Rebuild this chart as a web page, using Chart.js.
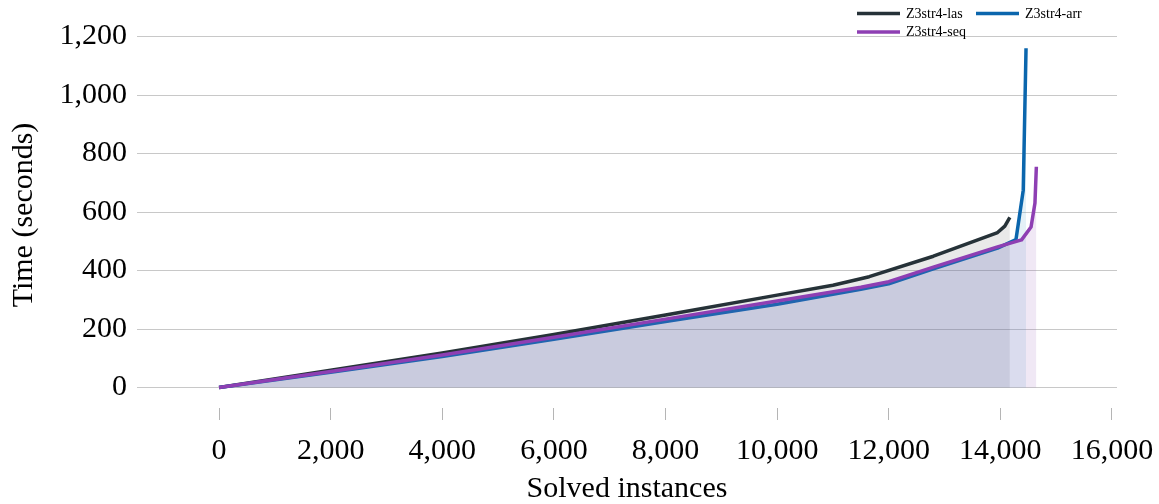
<!DOCTYPE html>
<html>
<head>
<meta charset="utf-8">
<script src="https://cdn.jsdelivr.net/npm/chart.js@4.4.0/dist/chart.umd.min.js"></script>
<style>
  html, body { margin: 0; padding: 0; background: #ffffff; }
  #wrap { width: 1159px; height: 504px; }
</style>
</head>
<body>
<div id="wrap"><canvas id="c" width="1159" height="504"></canvas></div>
<script>
// Solved instances (x) vs. cumulative time in seconds (y) for each solver
const seriesNames = ['Z3str4-las', 'Z3str4-arr', 'Z3str4-seq'];

const lasX = [0, 2000, 4000, 6000, 8000, 10000, 11000, 11650, 12800, 13950, 14080, 14170];
const lasY = [0, 59, 118, 181, 248, 316, 350, 379, 449, 530, 552, 582];

const arrX = [0, 2000, 4000, 6000, 8000, 10000, 11500, 12000, 12800, 13950, 14280, 14410, 14460];
const arrY = [0, 52, 106, 165, 226, 285, 336, 355, 406, 477, 506, 675, 1160];

const seqX = [0, 2000, 4000, 6000, 8000, 10000, 11500, 12000, 12800, 13950, 14380, 14550, 14620, 14645];
const seqY = [0, 55, 111, 172, 234, 296, 343, 362, 412, 481, 505, 549, 631, 755];

const xTicks = [0, 2000, 4000, 6000, 8000, 10000, 12000, 14000, 16000];
const yTicks = [0, 200, 400, 600, 800, 1000, 1200];

const toPoints = (xs, ys) => xs.map((x, i) => ({ x: x, y: ys[i] }));

const serif = 'Liberation Serif, Times New Roman, serif';
const bigFont = { family: serif, size: 30 };

const lineColors = ['#263238', '#0b66ad', '#8e3fb3'];
const fillColors = ['rgba(40,40,40,0.10)', 'rgba(82,162,202,0.15)', 'rgba(155,102,188,0.15)'];

// Two-row legend in the top-right corner
const cornerLegend = {
  id: 'cornerLegend',
  afterDraw(chart) {
    const ctx = chart.ctx;
    const items = [
      { i: 0, x: 857, y: 13.5 },
      { i: 1, x: 976, y: 13.5 },
      { i: 2, x: 857, y: 32 }
    ];
    ctx.save();
    ctx.font = '14px ' + serif;
    ctx.textBaseline = 'middle';
    ctx.fillStyle = '#000';
    items.forEach(it => {
      ctx.strokeStyle = lineColors[it.i];
      ctx.lineWidth = 3.5;
      ctx.beginPath();
      ctx.moveTo(it.x, it.y);
      ctx.lineTo(it.x + 43, it.y);
      ctx.stroke();
      ctx.fillText(seriesNames[it.i], it.x + 49, it.y + 0.5);
    });
    ctx.restore();
  }
};

const datasets = [
  { label: seriesNames[0], data: toPoints(lasX, lasY), order: 3 },
  { label: seriesNames[1], data: toPoints(arrX, arrY), order: 2 },
  { label: seriesNames[2], data: toPoints(seqX, seqY), order: 1 }
].map((d, i) => Object.assign(d, {
  borderColor: lineColors[i],
  backgroundColor: fillColors[i],
  borderWidth: 3.5,
  pointRadius: 0,
  tension: 0,
  fill: 'origin',
  borderJoinStyle: 'round'
}));

new Chart(document.getElementById('c'), {
  type: 'line',
  data: { datasets: datasets },
  options: {
    responsive: false,
    animation: false,
    devicePixelRatio: 1,
    layout: { padding: { top: 22, right: 42, left: 0, bottom: 0 } },
    plugins: {
      legend: { display: false },
      tooltip: { enabled: false }
    },
    scales: {
      x: {
        type: 'linear',
        min: -1470,
        max: 16090,
        afterBuildTicks: s => { s.ticks = xTicks.map(v => ({ value: v })); },
        afterFit: s => { s.height = 96; s.paddingLeft = 0; s.paddingRight = 0; },
        ticks: {
          font: bigFont,
          color: '#000',
          padding: 13,
          maxRotation: 0,
          autoSkip: false,
          callback: v => Number(v).toLocaleString('en-US')
        },
        grid: { drawOnChartArea: false, drawTicks: true, tickLength: 12, color: '#b5b5b5' },
        border: { display: false },
        title: {
          display: true,
          text: 'Solved instances',
          font: bigFont,
          color: '#000',
          padding: { top: 0, bottom: -3 }
        }
      },
      y: {
        type: 'linear',
        min: -70,
        max: 1250,
        afterBuildTicks: s => { s.ticks = yTicks.map(v => ({ value: v })); },
        afterFit: s => { s.width = 137; s.paddingTop = 0; s.paddingBottom = 0; },
        ticks: {
          font: bigFont,
          color: '#000',
          padding: 10,
          callback: v => Number(v).toLocaleString('en-US')
        },
        grid: { drawTicks: false, color: '#c8c8c8', lineWidth: 1 },
        border: { display: false },
        title: {
          display: true,
          text: 'Time (seconds)',
          font: bigFont,
          color: '#000',
          padding: { top: 6, bottom: 0 }
        }
      }
    }
  },
  plugins: [cornerLegend]
});
</script>
</body>
</html>
